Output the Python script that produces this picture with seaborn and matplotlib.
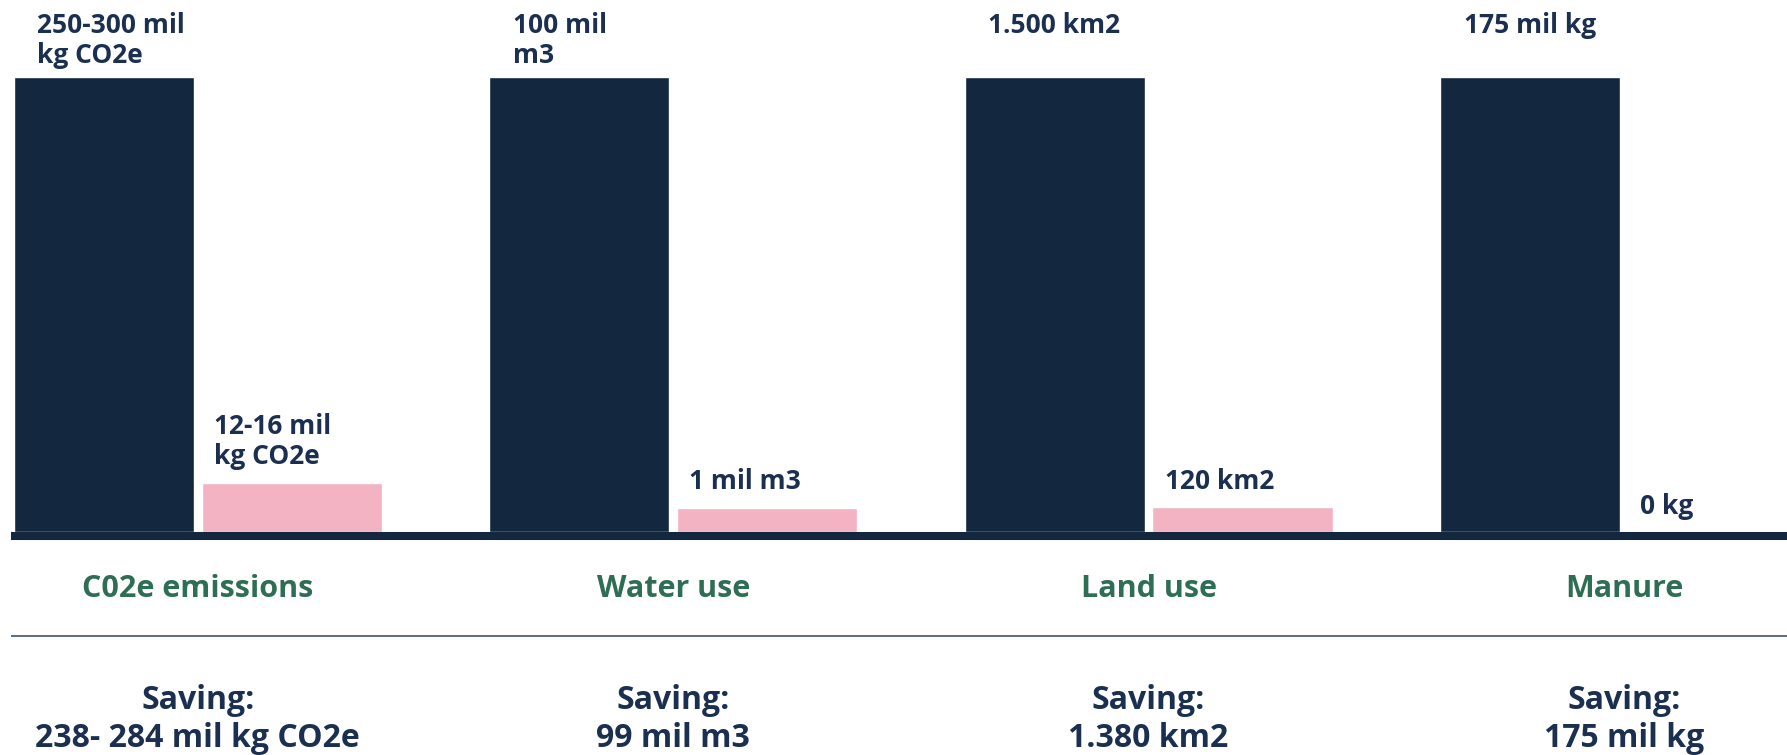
import pandas as pd
import seaborn as sns
import matplotlib.pyplot as plt

sns.set_theme(style="white")
plt.rcParams['font.family'] = ['Open Sans', 'DejaVu Sans']

categories = ['C02e emissions', 'Water use', 'Land use', 'Manure']
scenarios = ['Current', 'Alternative']
current_height = [100, 100, 100, 100]
alternative_height = [10.8, 5.3, 5.5, 0]
current_labels = ['250-300 mil\nkg CO2e', '100 mil\nm3', '1.500 km2', '175 mil kg']
alternative_labels = ['12-16 mil\nkg CO2e', '1 mil m3', '120 km2', '0 kg']
saving_labels = ['Saving:\n238- 284 mil kg CO2e', 'Saving:\n99 mil m3',
                 'Saving:\n1.380 km2', 'Saving:\n175 mil kg']

navy = '#13273f'
pink = '#f4b3c3'
text_navy = '#1b3050'
green = '#2e6e54'

df = pd.DataFrame({
    'category': categories * 2,
    'scenario': [scenarios[0]] * 4 + [scenarios[1]] * 4,
    'value': current_height + alternative_height,
})

fig = plt.figure(figsize=(17.87, 7.55), dpi=100)
ax = fig.add_axes([11 / 1787, 223 / 755, 1 - 11 / 1787, 532 / 755])
sns.barplot(data=df, x='category', y='value', hue='scenario', palette=[navy, pink],
            width=0.79, gap=0.04, saturation=1, legend=False, ax=ax)

ax.set_xlim(-0.393, 3.343)
ax.set_ylim(0, 117.05)
ax.set_yticks([])
ax.set_xlabel('')
ax.set_ylabel('')
for s in ax.spines.values():
    s.set_visible(False)

# value labels above the bars
for bar, txt in zip(ax.containers[0], current_labels):
    ax.annotate(txt, xy=(bar.get_x(), bar.get_height()), xytext=(17, 47),
                textcoords='offset points', ha='left', va='top',
                fontsize=19, fontweight='bold', color=text_navy, linespacing=1.15)
for bar, txt in zip(ax.containers[1], alternative_labels):
    ax.annotate(txt, xy=(bar.get_x(), bar.get_height()), xytext=(9, 9),
                textcoords='offset points', ha='left', va='bottom',
                fontsize=19, fontweight='bold', color=text_navy, linespacing=1.15)

# thick base line and divider
ax.axhline(-0.9, color=navy, lw=5.8, clip_on=False, solid_capstyle='butt')
ax.axhline(-22.8, color='#2b4468', lw=1.1, clip_on=False, solid_capstyle='butt')

ax.tick_params(axis='x', length=0, pad=30)
for lbl in ax.get_xticklabels():
    lbl.set_color(green)
    lbl.set_fontsize(22)
    lbl.set_fontweight('bold')

for i, txt in enumerate(saving_labels):
    ax.text(i, -41.2, txt, ha='center', va='center', fontsize=23, fontweight='bold',
            color=text_navy, linespacing=1.22, clip_on=False)

fig.savefig('out.png', dpi=100)
